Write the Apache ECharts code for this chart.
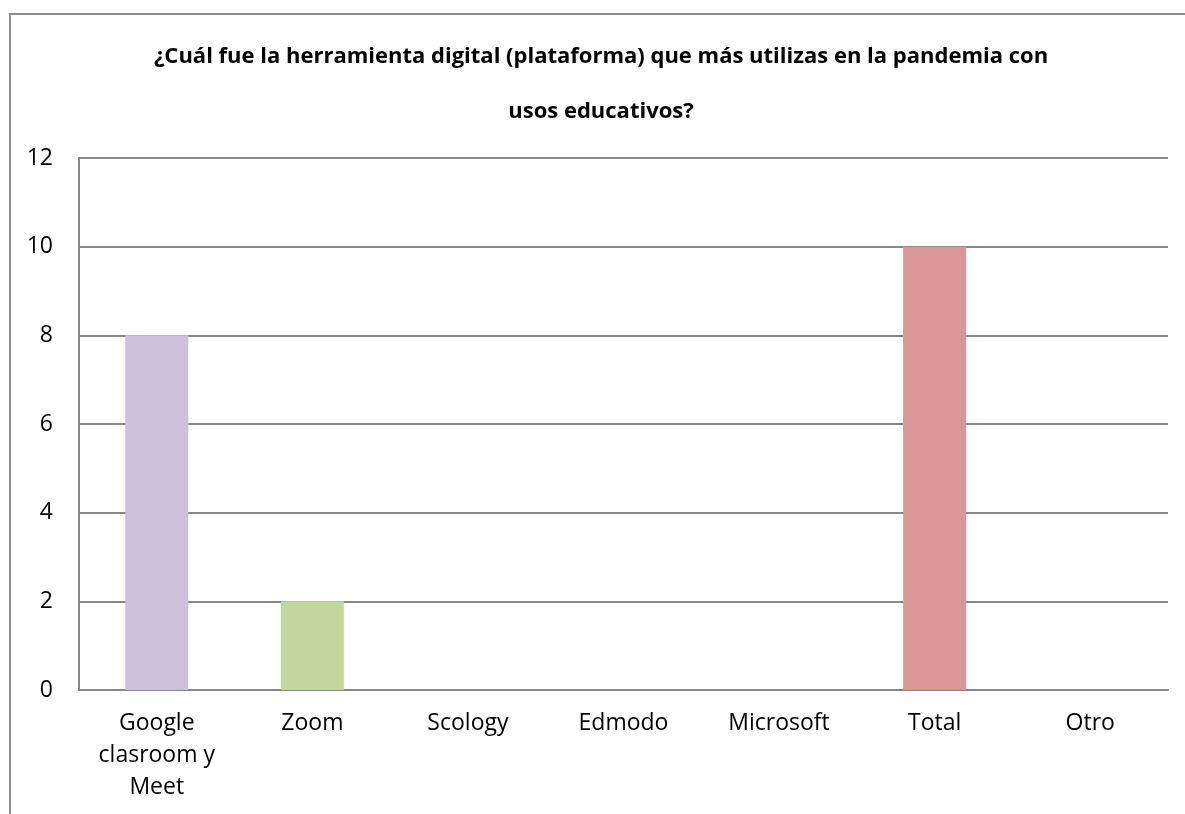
<!DOCTYPE html>
<html>
<head>
<meta charset="utf-8">
<script src="https://cdn.jsdelivr.net/npm/echarts@6/dist/echarts.min.js"></script>
<style>
  html, body { margin: 0; padding: 0; background: #fff; }
  #chart { width: 1185px; height: 814px; }
</style>
</head>
<body>
<div id="chart"></div>
<script>
// categories and values
const categories = ['Google\nclasroom y\nMeet', 'Zoom', 'Scology', 'Edmodo', 'Microsoft', 'Total', 'Otro'];
const counts = [8, 2, 0, 0, 0, 10, 0];
const barColors = ['#CCC1DA', '#C3D69B', '#4F81BD', '#4F81BD', '#4F81BD', '#D99694', '#4F81BD'];
const titleText = '¿Cuál fue la herramienta digital (plataforma) que más utilizas en la pandemia con\nusos educativos?';

let myChart = echarts.init(document.getElementById('chart'));
let fontFam = '"Open Sans", "DejaVu Sans", sans-serif';

let barData = [];
for (let i = 0; i < counts.length; i++) {
  barData.push({ value: counts[i], itemStyle: { color: barColors[i] } });
}

myChart.setOption({
  animation: false,
  title: {
    text: titleText,
    left: 596,
    top: 24,
    textAlign: 'center',
    textStyle: {
      color: '#000',
      fontWeight: 'bold',
      fontSize: 22,
      fontFamily: fontFam,
      lineHeight: 55,
      align: 'center'
    }
  },
  // outer frame of the chart box
  graphic: [{
    type: 'polyline',
    shape: { points: [[10, 814], [10, 14], [1185, 14]] },
    style: { stroke: '#8c8c8c', lineWidth: 2, fill: null }
  }],
  grid: {
    left: 79,
    right: 17,
    top: 158,
    bottom: 124,
    containLabel: false
  },
  xAxis: {
    type: 'category',
    data: categories,
    axisLine: { show: true, lineStyle: { color: '#868686', width: 2 } },
    axisTick: { show: false },
    axisLabel: {
      color: '#000',
      fontSize: 23,
      fontFamily: fontFam,
      lineHeight: 32,
      margin: 17,
      interval: 0
    }
  },
  yAxis: {
    type: 'value',
    min: 0,
    max: 12,
    interval: 2,
    axisLine: { show: true, lineStyle: { color: '#868686', width: 2 } },
    axisTick: { show: false },
    axisLabel: {
      color: '#000',
      fontSize: 23,
      fontFamily: fontFam,
      margin: 26
    },
    splitLine: { lineStyle: { color: '#868686', width: 2 } }
  },
  series: [{
    type: 'bar',
    data: barData,
    barWidth: 63
  }]
});
</script>
</body>
</html>
